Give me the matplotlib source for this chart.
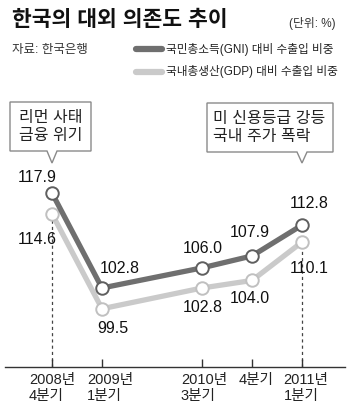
import matplotlib.pyplot as plt
from matplotlib.patches import Polygon
from matplotlib.transforms import ScaledTranslation

plt.rcParams['font.family'] = ['Liberation Sans', 'Noto Sans CJK KR', 'DejaVu Sans']

# 데이터
x_pos = [0, 1, 3, 4, 5]
tick_labels = ['2008년\n4분기', '2009년\n1분기', '2010년\n3분기', '4분기', '2011년\n1분기']
gni = [117.9, 102.8, 106.0, 107.9, 112.8]
gdp = [114.6, 99.5, 102.8, 104.0, 110.1]

# 값 라벨 위치 (픽셀 오프셋)
gni_off = [(-15, 16), (18, 20), (1, 19), (-2, 23), (7, 22)]
gdp_off = [(-15, -26), (11, -20), (1, -19), (-2, -18), (7, -26)]
tick_shift = [0, 8, 2, 4, 4]

W, H = 350, 420
fig = plt.figure(figsize=(3.5, 4.2), dpi=100)


def fp(px, py):
    return px / W, 1 - py / H


ax = fig.add_axes([5 / W, (H - 367) / H, 340 / W, 367 / H])
ax.set_xlim(-0.94, 5.86)
ax.set_ylim(90.24, 148.59)
for s in ['top', 'left', 'right']:
    ax.spines[s].set_visible(False)
ax.spines['bottom'].set_color('#333333')
ax.spines['bottom'].set_linewidth(1.0)
ax.set_yticks([])
ax.set_xticks(x_pos)
ax.set_xticklabels(tick_labels, fontsize=10.5, color='#222222', linespacing=1.2,
                   va='top', multialignment='left')
ax.tick_params(axis='x', direction='in', length=5.5, width=1, color='#333333', pad=4)
for lbl, sh in zip(ax.get_xticklabels(), tick_shift):
    lbl.set_transform(lbl.get_transform() + ScaledTranslation(sh / 100, 0, fig.dpi_scale_trans))

# 점선
ax.vlines([x_pos[0], x_pos[-1]], 90.24, [gdp[0], gdp[-1]], colors='#444444',
          linestyles=(0, (2.5, 2.5)), linewidth=0.9, zorder=1)

ax.plot(x_pos, gdp, color='#cacaca', lw=3.8, marker='o', ms=9, mfc='white',
        mec='#c0c0c0', mew=1.4, zorder=3, solid_capstyle='round')
ax.plot(x_pos, gni, color='#6f6f6f', lw=3.8, marker='o', ms=9, mfc='white',
        mec='#5f5f5f', mew=1.4, zorder=4, solid_capstyle='round')

for x, v, (dx, dy) in zip(x_pos, gni, gni_off):
    ax.annotate(f'{v:.1f}', (x, v), xytext=(dx * 0.72, dy * 0.72), textcoords='offset points',
                ha='center', va='center', fontsize=11.5, color='#111111')
for x, v, (dx, dy) in zip(x_pos, gdp, gdp_off):
    ax.annotate(f'{v:.1f}', (x, v), xytext=(dx * 0.72, dy * 0.72), textcoords='offset points',
                ha='center', va='center', fontsize=11.5, color='#111111')

# 제목, 출처, 범례
fig.text(*fp(12, 21), '한국의 대외 의존도 추이', fontsize=15.5, fontweight='bold',
         va='center', ha='left', color='#111111')
fig.text(*fp(336, 23), '(단위: %)', fontsize=8.5, va='center', ha='right', color='#333333')
fig.text(*fp(12, 50), '자료: 한국은행', fontsize=9, va='center', ha='left', color='#333333')

legend_items = [('국민총소득(GNI) 대비 수출입 비중', '#6f6f6f', 49),
                ('국내총생산(GDP) 대비 수출입 비중', '#cacaca', 72)]
for label, col, py in legend_items:
    x0, y0 = fp(136, py)
    x1, _ = fp(162, py)
    fig.add_artist(plt.Line2D([x0, x1], [y0, y0], color=col, lw=4.5,
                              solid_capstyle='round', transform=fig.transFigure))
    fig.text(*fp(166, py), label, fontsize=8.4, va='center', ha='left', color='#222222')


# 말풍선
def callout(left, right, top, bottom, tip_x, tip_y, lines, text_x, ha):
    pts = [(left, top), (right, top), (right, bottom), (tip_x + 5, bottom),
           (tip_x, tip_y), (tip_x - 5, bottom), (left, bottom)]
    poly = Polygon([fp(px, py) for px, py in pts], closed=True, facecolor='white',
                   edgecolor='#8a8a8a', lw=1.0, transform=fig.transFigure)
    fig.add_artist(poly)
    fig.text(*fp(text_x, (top + bottom) / 2), lines, fontsize=11.5, va='center', ha=ha,
             color='#222222', linespacing=1.3)


fig.canvas.draw()
tip0 = ax.transData.transform((x_pos[0], 100))[0]
tip1 = ax.transData.transform((x_pos[-1], 100))[0]
callout(10, 91, 102, 151, tip0, 163, '리먼 사태\n금융 위기', 50.5, 'center')
callout(207, 333, 103, 152, tip1, 163, '미 신용등급 강등\n국내 주가 폭락', 213, 'left')

fig.savefig('out.png', dpi=100)
